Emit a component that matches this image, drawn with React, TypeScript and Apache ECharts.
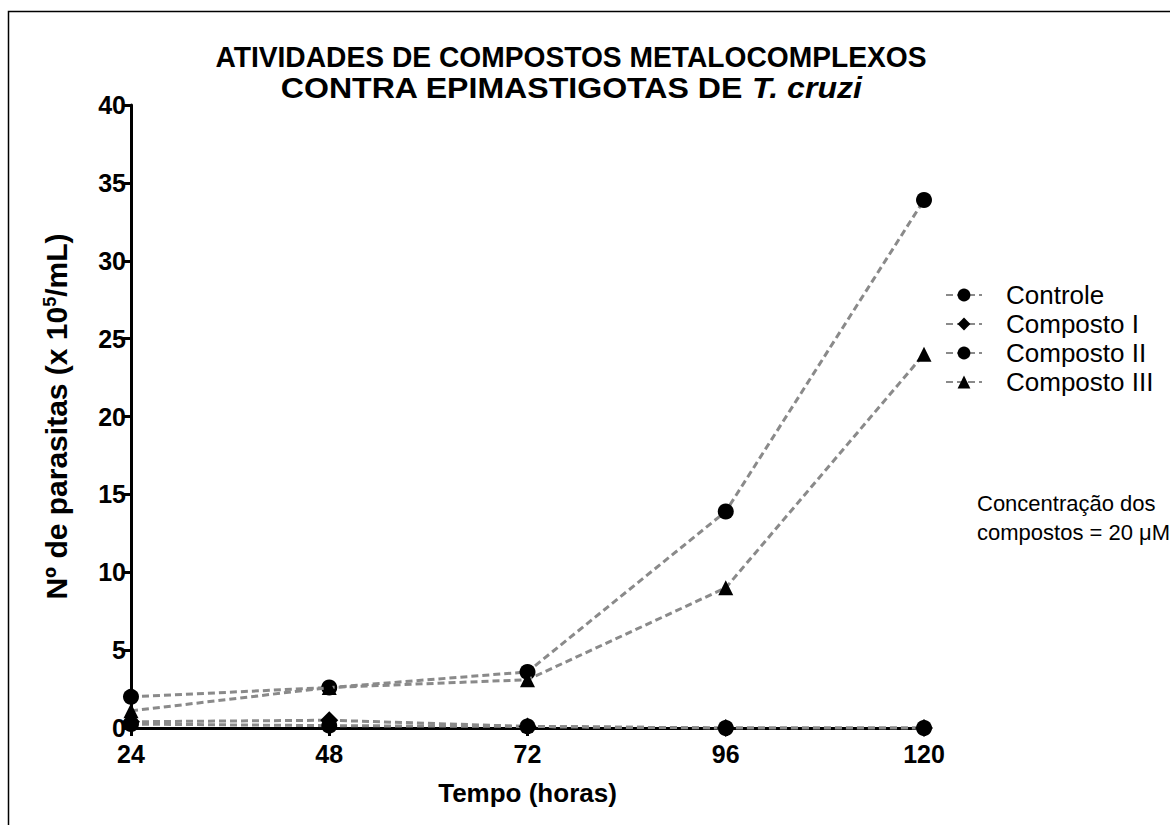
import React, { useEffect, useRef } from "react";
import * as echarts from "echarts";

const hours = [24, 48, 72, 96, 120];
const controle = [2.0, 2.6, 3.6, 13.9, 33.9];
const compostoI = [0.4, 0.5, 0.1, 0.0, 0.0];
const compostoII = [0.25, 0.15, 0.1, 0.0, 0.0];
const compostoIII = [1.1, 2.6, 3.1, 9.0, 24.0];
const seriesNames = ["Controle", "Composto I", "Composto II", "Composto III"];
const yTicks = { min: 0, max: 40, interval: 5 };

const FONT = "Liberation Sans, Arial, Helvetica, sans-serif";

function pairs(vals: number[]) {
  return hours.map((h, i) => [h, vals[i]]);
}

export default function App() {
  const ref = useRef<HTMLDivElement>(null);
  useEffect(() => {
    document.body.style.margin = "0";
    const chart = echarts.init(ref.current!, null, { renderer: "svg" });
    const lineStyle = { color: "#8a8a8a", width: 3, type: [7, 4] as any };
    const mk = (name: string, vals: number[], symbol: string, size: number, z: number) => ({
      name,
      type: "line",
      data: pairs(vals),
      symbol,
      symbolSize: size,
      lineStyle,
      itemStyle: { color: "#000" },
      z,
    });
    chart.setOption({
      animation: false,
      backgroundColor: "#fff",
      grid: { left: 131, right: 246, top: 105, bottom: 97 },
      xAxis: {
        type: "value",
        min: 24,
        max: 120,
        interval: 24,
        name: "Tempo (horas)",
        nameLocation: "middle",
        nameGap: 52,
        nameTextStyle: { fontFamily: FONT, fontWeight: "bold", fontSize: 26, color: "#000" },
        axisLine: { lineStyle: { color: "#000", width: 3 } },
        axisTick: { show: true, length: 8, lineStyle: { color: "#000", width: 3 } },
        axisLabel: { fontFamily: FONT, fontWeight: "bold", fontSize: 25, color: "#000", margin: 13 },
        splitLine: { show: false },
      },
      yAxis: {
        type: "value",
        min: yTicks.min,
        max: yTicks.max,
        interval: yTicks.interval,
        name: "Nº de parasitas (x 10{s|5}/mL)",
        nameLocation: "middle",
        nameGap: 60,
        nameTextStyle: {
          fontFamily: FONT,
          fontWeight: "bold",
          fontSize: 30,
          color: "#000",
          rich: {
            s: { fontFamily: FONT, fontWeight: "bold", fontSize: 18, color: "#000", verticalAlign: "top", padding: [0, 0, 12, 0] },
          },
        },
        axisLine: { show: true, lineStyle: { color: "#000", width: 3 } },
        axisTick: { show: true, length: 8, lineStyle: { color: "#000", width: 3 } },
        axisLabel: { fontFamily: FONT, fontWeight: "bold", fontSize: 25, color: "#000", margin: 5 },
        splitLine: { show: false },
      },
      legend: {
        orient: "vertical",
        left: 940,
        top: 277,
        itemWidth: 36,
        itemHeight: 16,
        itemGap: 3,
        data: seriesNames,
        textStyle: { fontFamily: FONT, fontSize: 26, color: "#000", padding: [0, 0, 0, 19] },
      },
      series: [
        mk(seriesNames[0], controle, "circle", 16, 3),
        mk(seriesNames[2], compostoII, "circle", 16, 2),
        mk(seriesNames[1], compostoI, "diamond", 18, 4),
        mk(seriesNames[3], compostoIII, "triangle", 15, 5),
      ],
      graphic: [
        {
          type: "rect",
          shape: { x: 8.5, y: 11.5, width: 1300, height: 1000 },
          style: { fill: "none", stroke: "#000", lineWidth: 1.5 },
          silent: true,
        },
        {
          type: "text",
          x: 571,
          y: 57,
          scaleX: 0.94,
          style: {
            text: "ATIVIDADES DE COMPOSTOS METALOCOMPLEXOS",
            fontFamily: FONT,
            fontWeight: "bold",
            fontSize: 30,
            fill: "#000",
            align: "center",
            verticalAlign: "middle",
          },
        },
        {
          type: "text",
          x: 571,
          y: 88,
          scaleX: 1.07,
          style: {
            text: "CONTRA EPIMASTIGOTAS DE {i|T. cruzi}",
            fontFamily: FONT,
            fontWeight: "bold",
            fontSize: 30,
            fill: "#000",
            align: "center",
            verticalAlign: "middle",
            rich: {
              i: { fontFamily: FONT, fontWeight: "bold", fontStyle: "italic", fontSize: 30, fill: "#000" },
            },
          },
        },
        {
          type: "text",
          x: 977,
          y: 489,
          style: {
            text: "Concentração dos\ncompostos = 20 μM",
            fontFamily: FONT,
            fontSize: 22,
            lineHeight: 29,
            fill: "#000",
            align: "left",
            verticalAlign: "top",
          },
        },
      ],
    });
    return () => chart.dispose();
  }, []);
  return <div ref={ref} style={{ width: 1170, height: 825 }} />;
}
